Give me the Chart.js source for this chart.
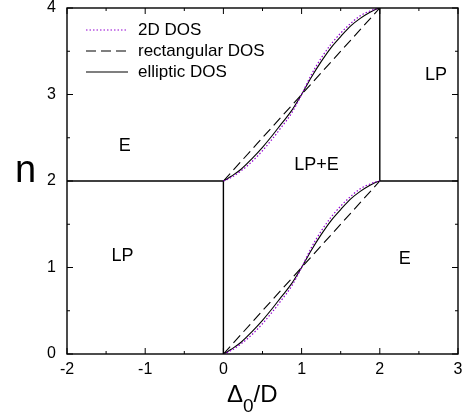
<!DOCTYPE html>
<html>
<head>
<meta charset="utf-8">
<script src="https://cdn.jsdelivr.net/npm/chart.js@4"></script>
<style>
  body { margin: 0; background: #fff; }
  canvas { display: block; }
</style>
</head>
<body>
<canvas id="phaseChart" width="471" height="418"></canvas>
<script>
// --- data ---
const xTicks = [-2, -1, 0, 1, 2, 3];
const yTicks = [0, 1, 2, 3, 4];

// lower branch, x values shared by the curves
const curveX = [0, 0.05, 0.1, 0.23, 0.36, 0.5, 0.62, 0.74, 0.87, 1, 1.125, 1.25, 1.375, 1.5, 1.625, 1.75, 1.875, 1.95, 2];
const ellipticLow = [0, 0.025, 0.054, 0.139, 0.254, 0.39, 0.52, 0.66, 0.81, 1, 1.2, 1.38, 1.54, 1.67, 1.79, 1.88, 1.95, 1.985, 2];
const ellipticHigh = [2, 2.025, 2.054, 2.139, 2.254, 2.39, 2.52, 2.66, 2.81, 3, 3.2, 3.38, 3.54, 3.67, 3.79, 3.88, 3.95, 3.985, 4];
const dos2dLow = [0, 0.018, 0.04, 0.12, 0.22, 0.35, 0.48, 0.62, 0.78, 1, 1.23, 1.42, 1.58, 1.71, 1.82, 1.91, 1.965, 1.99, 2];
const dos2dHigh = [2, 2.018, 2.04, 2.12, 2.22, 2.35, 2.48, 2.62, 2.78, 3, 3.23, 3.42, 3.58, 3.71, 3.82, 3.91, 3.965, 3.99, 4];
const rectX = [0, 1, 2];
const rectLow = [0, 1, 2];
const rectHigh = [2, 3, 4];

// phase boundaries
const boundaryLeftX = [-2, 0];
const boundaryLeftY = [2, 2];
const boundaryMidX = [0, 0];
const boundaryMidY = [0, 2];
const boundaryRightVX = [2, 2];
const boundaryRightVY = [2, 4];
const boundaryRightHX = [2, 3];
const boundaryRightHY = [2, 2];

// region labels
const regionText = ["E", "LP", "LP+E", "LP", "E"];
const regionX = [-1.26, -1.29, 1.19, 2.72, 2.32];
const regionY = [2.4, 1.13, 2.19, 3.23, 1.1];

const legendNames = ["2D DOS", "rectangular DOS", "elliptic DOS"];

const FONT = '"Liberation Sans", Arial, Helvetica, sans-serif';
const purple = "#9400d3";

function pts(xs, ys) {
  return xs.map((x, i) => ({ x: x, y: ys[i] }));
}

function curve(data, color, dash, width) {
  return {
    data: data,
    borderColor: color,
    borderWidth: width,
    borderDash: dash,
    pointRadius: 0,
    fill: false,
    tension: 0,
    cubicInterpolationMode: "monotone",
  };
}

const datasets = [
  curve(pts(curveX, dos2dLow), purple, [1.5, 2], 1.2),
  curve(pts(curveX, dos2dHigh), purple, [1.5, 2], 1.2),
  curve(pts(rectX, rectLow), "#000", [10, 5], 1.1),
  curve(pts(rectX, rectHigh), "#000", [10, 5], 1.1),
  curve(pts(curveX, ellipticLow), "#000", [], 1.1),
  curve(pts(curveX, ellipticHigh), "#000", [], 1.1),
  curve(pts(boundaryLeftX, boundaryLeftY), "#000", [], 1.4),
  curve(pts(boundaryMidX, boundaryMidY), "#000", [], 1.4),
  curve(pts(boundaryRightVX, boundaryRightVY), "#000", [], 1.4),
  curve(pts(boundaryRightHX, boundaryRightHY), "#000", [], 1.4),
];

// frame, inward ticks, legend, labels
const decorPlugin = {
  id: "decor",
  afterDatasetsDraw(chart) {
    const ctx = chart.ctx;
    const a = chart.chartArea;
    const xs = chart.scales.x;
    const ys = chart.scales.y;
    ctx.save();

    ctx.strokeStyle = "#000";
    ctx.lineWidth = 1.4;
    ctx.strokeRect(a.left, a.top, a.right - a.left, a.bottom - a.top);

    // ticks on all four sides, minor ones halfway
    ctx.lineWidth = 1;
    ctx.beginPath();
    xTicks.forEach((v, i) => {
      const p = xs.getPixelForValue(v);
      ctx.moveTo(p, a.bottom); ctx.lineTo(p, a.bottom - 6);
      ctx.moveTo(p, a.top); ctx.lineTo(p, a.top + 6);
      if (i < xTicks.length - 1) {
        const m = xs.getPixelForValue((v + xTicks[i + 1]) / 2);
        ctx.moveTo(m, a.bottom); ctx.lineTo(m, a.bottom - 3);
        ctx.moveTo(m, a.top); ctx.lineTo(m, a.top + 3);
      }
    });
    yTicks.forEach((v, i) => {
      const p = ys.getPixelForValue(v);
      ctx.moveTo(a.left, p); ctx.lineTo(a.left + 6, p);
      ctx.moveTo(a.right, p); ctx.lineTo(a.right - 6, p);
      if (i < yTicks.length - 1) {
        const m = ys.getPixelForValue((v + yTicks[i + 1]) / 2);
        ctx.moveTo(a.left, m); ctx.lineTo(a.left + 3, m);
        ctx.moveTo(a.right, m); ctx.lineTo(a.right - 3, m);
      }
    });
    ctx.stroke();

    // region labels
    ctx.fillStyle = "#000";
    ctx.font = "18px " + FONT;
    ctx.textAlign = "center";
    ctx.textBaseline = "middle";
    regionText.forEach((t, i) => {
      ctx.fillText(t, xs.getPixelForValue(regionX[i]), ys.getPixelForValue(regionY[i]));
    });

    // legend (top left, inside the frame)
    const legendStyles = [
      { color: purple, dash: [1.5, 2] },
      { color: "#000", dash: [10, 5] },
      { color: "#000", dash: [] },
    ];
    ctx.font = "17px " + FONT;
    ctx.textAlign = "left";
    legendNames.forEach((name, i) => {
      const y = a.top + 22 + i * 21;
      ctx.strokeStyle = legendStyles[i].color;
      ctx.setLineDash(legendStyles[i].dash);
      ctx.lineWidth = 1.1;
      ctx.beginPath();
      ctx.moveTo(a.left + 19, y);
      ctx.lineTo(a.left + 61, y);
      ctx.stroke();
      ctx.fillText(name, a.left + 71, y);
    });
    ctx.setLineDash([]);

    // axis titles
    ctx.textBaseline = "alphabetic";
    ctx.textAlign = "left";
    ctx.font = "24px " + FONT;
    let tx = 227;
    ctx.fillText("\u0394", tx, 402);
    tx += ctx.measureText("\u0394").width;
    ctx.font = "19px " + FONT;
    ctx.fillText("0", tx, 412);
    tx += ctx.measureText("0").width;
    ctx.font = "24px " + FONT;
    ctx.fillText("/D", tx, 402);

    ctx.font = "38px " + FONT;
    ctx.fillText("n", 15, 182);

    ctx.restore();
  },
};

new Chart(document.getElementById("phaseChart"), {
  type: "line",
  data: { datasets: datasets },
  options: {
    responsive: false,
    animation: false,
    events: [],
    layout: { padding: { top: 8, right: 13, left: 0, bottom: 0 } },
    plugins: {
      legend: { display: false },
      tooltip: { enabled: false },
    },
    scales: {
      x: {
        type: "linear",
        min: -2,
        max: 3,
        afterBuildTicks: (s) => { s.ticks = xTicks.map((v) => ({ value: v })); },
        afterFit: (s) => {
          s.height = 64;
          s.paddingLeft = 0; s.paddingRight = 0;
        },
        grid: { display: false, drawTicks: false },
        border: { display: false },
        ticks: { color: "#000", padding: 6, font: { family: FONT, size: 16 } },
      },
      y: {
        type: "linear",
        min: 0,
        max: 4,
        afterBuildTicks: (s) => { s.ticks = yTicks.map((v) => ({ value: v })); },
        afterFit: (s) => {
          s.width = 67;
          s.paddingTop = 0; s.paddingBottom = 0;
        },
        grid: { display: false, drawTicks: false },
        border: { display: false },
        ticks: { color: "#000", padding: 11, font: { family: FONT, size: 16 } },
      },
    },
  },
  plugins: [decorPlugin],
});
</script>
</body>
</html>
